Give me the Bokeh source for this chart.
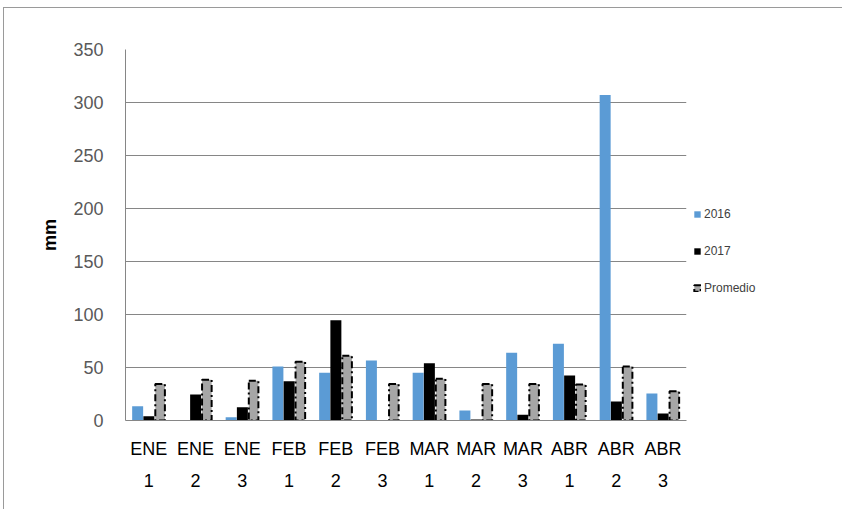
import numpy as np
from bokeh.plotting import figure
from bokeh.models import (ColumnDataSource, Range1d, LinearAxis,
                          Legend, LegendItem, FixedTicker)
from bokeh.transform import dodge
from bokeh.embed import file_html
from bokeh.resources import INLINE

months = ["ENE", "ENE", "ENE", "FEB", "FEB", "FEB", "MAR", "MAR", "MAR", "ABR", "ABR", "ABR"]
decades = ["1", "2", "3", "1", "2", "3", "1", "2", "3", "1", "2", "3"]
s2016 = [13.5, 0, 3, 51, 45, 56.5, 45, 9.5, 64, 72.5, 307, 25.5]
s2017 = [4, 24.5, 12.5, 37, 94.5, 0, 54, 1, 5.5, 42.5, 18, 6.5]
promedio = [34.5, 38.5, 37.5, 55.5, 61, 34.5, 39.5, 34.5, 34.5, 34, 51, 27.5]
y_ticks = [0, 50, 100, 150, 200, 250, 300, 350]

n = len(months)
centers = np.arange(n) + 0.5          # category slot centres on a 0..n axis
src = ColumnDataSource(dict(x=centers, a=s2016, b=s2017, c=promedio))

FONT = "Liberation Sans"
GRID = "#868686"
LBL = "#595959"

p = figure(x_range=Range1d(0, n), y_range=Range1d(0, 350),
           frame_width=561, frame_height=371, output_backend="svg", toolbar_location=None,
           x_axis_location=None, min_border_left=121, min_border_top=41,
           min_border_right=155, min_border_bottom=89)
p.styles = {"border-left": "1px solid #9a9a9a", "border-top": "1px solid #9a9a9a",
            "margin-left": "3px", "margin-top": "7px"}
p.outline_line_color = None

bw = 0.235
off = 0.24
r1 = p.vbar(x=dodge("x", -off), top="a", width=bw, source=src,
            fill_color="#5b9bd5", line_color=None)
r2 = p.vbar(x=dodge("x", 0.0), top="b", width=bw, source=src,
            fill_color="#000000", line_color=None)
r3 = p.vbar(x=dodge("x", off), top="c", width=bw - 0.03, source=src,
            fill_color="#a6a6a6", line_color="#000000", line_width=2, line_dash="7 3 2 3")

# y axis
ya = p.yaxis[0]
ya.ticker = FixedTicker(ticks=y_ticks)
ya.major_label_text_font = FONT
ya.major_label_text_font_size = "18px"
ya.major_label_text_color = LBL
ya.major_tick_line_color = None
ya.minor_tick_line_color = None
ya.major_tick_out = 0
ya.major_tick_in = 0
ya.axis_line_color = GRID
ya.major_label_standoff = 22
ya.axis_label = "mm"
ya.axis_label_text_font = FONT
ya.axis_label_text_font_style = "bold"
ya.axis_label_text_font_size = "18px"
ya.axis_label_text_color = "#000000"
ya.axis_label_standoff = 10

p.ygrid.grid_line_color = GRID
p.ygrid.ticker = FixedTicker(ticks=y_ticks)
p.xgrid.grid_line_color = None

# x axes: month line and decade line
tick_pos = [float(c) for c in centers]
ax1 = LinearAxis(ticker=FixedTicker(ticks=tick_pos),
                 major_label_overrides={t: m for t, m in zip(tick_pos, months)})
ax2 = LinearAxis(ticker=FixedTicker(ticks=tick_pos),
                 major_label_overrides={t: d for t, d in zip(tick_pos, decades)})
for ax, st in ((ax1, 18), (ax2, 12)):
    ax.major_label_text_font = FONT
    ax.major_label_text_font_size = "18px"
    ax.major_label_text_color = "#000000"
    ax.major_tick_line_color = None
    ax.minor_tick_line_color = None
    ax.major_tick_out = 0
    ax.major_tick_in = 0
    ax.major_label_standoff = st
    ax.major_label_orientation = "horizontal"
ax1.axis_line_color = GRID
ax2.axis_line_color = None
p.add_layout(ax1, "below")
p.add_layout(ax2, "below")

legend = Legend(items=[LegendItem(label="2016", renderers=[r1]),
                       LegendItem(label="2017", renderers=[r2]),
                       LegendItem(label="Promedio", renderers=[r3])],
                location="center_left", padding=0, margin=7, spacing=23,
                title=" ", title_text_font_size="20px", title_standoff=9,
                glyph_width=8, glyph_height=8, label_height=12, label_standoff=3,
                label_text_font=FONT, label_text_font_size="12px",
                label_text_color="#404040", border_line_color=None,
                background_fill_alpha=0)
p.add_layout(legend, "right")

open("out.html", "w").write(file_html(p, INLINE))
